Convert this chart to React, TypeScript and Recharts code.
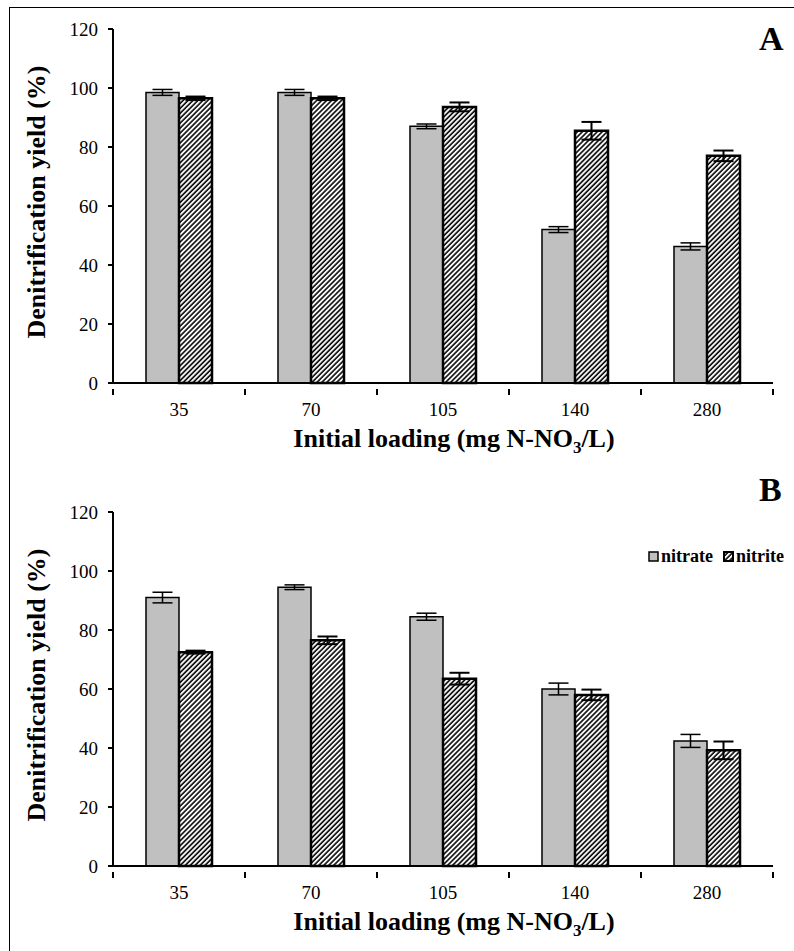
import React from 'react';
import { BarChart, Bar, XAxis, YAxis, ErrorBar, Label, Legend } from 'recharts';

const categories = ['35', '70', '105', '140', '280'];
const yTicks = [0, 20, 40, 60, 80, 100, 120];

// panel A
const nitrateA = [98.5, 98.5, 87, 52, 46.3];
const nitrateErrA = [1, 1, 0.8, 1, 1.2];
const nitriteA = [96.5, 96.5, 93.6, 85.5, 77];
const nitriteErrA = [0.6, 0.6, 1.5, 3, 1.8];

// panel B
const nitrateB = [91, 94.5, 84.5, 60, 42.4];
const nitrateErrB = [1.8, 0.8, 1.2, 2, 2.2];
const nitriteB = [72.5, 76.5, 63.5, 58, 39.2];
const nitriteErrB = [0.5, 1.3, 2, 1.8, 3];

const FONT = 'Liberation Serif, Times New Roman, serif';
const GREY = '#c0c0c0';

const buildRows = (no3: number[], no3Err: number[], no2: number[], no2Err: number[]) =>
  categories.map((c, i) => ({
    loading: c,
    nitrate: no3[i],
    nitrateErr: no3Err[i],
    nitrite: no2[i],
    nitriteErr: no2Err[i],
  }));

const dataA = buildRows(nitrateA, nitrateErrA, nitriteA, nitriteErrA);
const dataB = buildRows(nitrateB, nitrateErrB, nitriteB, nitriteErrB);

// category labels at the centre, tick marks on the category boundaries
const CategoryTick = (props: any) => {
  const { x, y, payload, index, width, visibleTicksCount } = props;
  const step = width / visibleTicksCount;
  const axisY = y - 2;
  return (
    <g>
      <line x1={x - step / 2} y1={axisY} x2={x - step / 2} y2={axisY + 6} stroke="#000" strokeWidth={2} />
      {index === visibleTicksCount - 1 && (
        <line x1={x + step / 2} y1={axisY} x2={x + step / 2} y2={axisY + 6} stroke="#000" strokeWidth={2} />
      )}
      <text x={x} y={axisY + 27} textAnchor="middle" fontFamily={FONT} fontSize={19} fill="#000">
        {payload.value}
      </text>
    </g>
  );
};

const XTitle = (props: any) => {
  const { viewBox } = props;
  const cx = viewBox.x + viewBox.width / 2 + 11;
  return (
    <text x={cx} y={viewBox.y + 64} textAnchor="middle" fontFamily={FONT} fontSize={26} fontWeight="bold" fill="#000">
      Initial loading (mg N-NO
      <tspan fontSize={17} dy={6}>3</tspan>
      <tspan dy={-6}>/L)</tspan>
    </text>
  );
};

const YTitle = (props: any) => {
  const { viewBox } = props;
  const cy = viewBox.y + viewBox.height / 2 - 4;
  const x = 45;
  return (
    <text
      x={x}
      y={cy}
      transform={`rotate(-90, ${x}, ${cy})`}
      textAnchor="middle"
      fontFamily={FONT}
      fontSize={26}
      fontWeight="bold"
      fill="#000"
    >
      Denitrification yield (%)
    </text>
  );
};

const LegendBox = () => (
  <div style={{ display: 'flex', alignItems: 'center', fontFamily: FONT, fontSize: 18, fontWeight: 'bold' }}>
    <svg width={11} height={11} style={{ marginRight: 2 }}>
      <rect x={1} y={1} width={9} height={9} fill={GREY} stroke="#000" strokeWidth={1.5} />
    </svg>
    <span style={{ marginRight: 10 }}>nitrate</span>
    <svg width={11} height={11} style={{ marginRight: 2 }}>
      <rect x={1} y={1} width={9} height={9} fill="url(#hatch)" stroke="#000" strokeWidth={2} />
    </svg>
    <span>nitrite</span>
  </div>
);

const Panel = ({ data, height, top, showLegend }: { data: any[]; height: number; top: number; showLegend?: boolean }) => (
  <BarChart
    width={794}
    height={height}
    data={data}
    margin={{ top, right: 21, left: 53, bottom: height - top - 354 - 30 }}
    barCategoryGap="25%"
    barGap={0}
  >
    <XAxis
      dataKey="loading"
      height={30}
      axisLine={{ stroke: '#000', strokeWidth: 2 }}
      tickLine={false}
      tick={<CategoryTick />}
      interval={0}
    >
      <Label content={<XTitle />} />
    </XAxis>
    <YAxis
      width={60}
      domain={[0, 120]}
      ticks={yTicks}
      interval={0}
      axisLine={{ stroke: '#000', strokeWidth: 2 }}
      tickLine={{ stroke: '#000', strokeWidth: 2 }}
      tickSize={5}
      tickMargin={10}
      tick={{ fontFamily: FONT, fontSize: 19, fill: '#000' }}
    >
      <Label content={<YTitle />} />
    </YAxis>
    {showLegend && (
      <Legend
        layout="horizontal"
        verticalAlign="middle"
        align="center"
        content={<LegendBox />}
        wrapperStyle={{ top: 66, left: 648, width: 150 }}
      />
    )}
    <Bar dataKey="nitrate" fill={GREY} stroke="#000" strokeWidth={1.5} isAnimationActive={false}>
      <ErrorBar dataKey="nitrateErr" width={10} stroke="#000" strokeWidth={1.5} />
    </Bar>
    <Bar dataKey="nitrite" fill="url(#hatch)" stroke="#000" strokeWidth={2.5} isAnimationActive={false}>
      <ErrorBar dataKey="nitriteErr" width={10} stroke="#000" strokeWidth={2} />
    </Bar>
  </BarChart>
);

export default function App() {
  return (
    <div style={{ position: 'absolute', left: 0, top: 0, width: 794, height: 951, overflow: 'hidden', background: '#fff' }}>
      <svg width={0} height={0} style={{ position: 'absolute' }}>
        <defs>
          <pattern id="hatch" patternUnits="userSpaceOnUse" width={3.5} height={3.5} patternTransform="rotate(45)">
            <rect width={3.5} height={3.5} fill="#fff" />
            <line x1={1} y1={0} x2={1} y2={3.5} stroke="#000" strokeWidth={1.6} />
          </pattern>
        </defs>
      </svg>
      <div
        style={{
          position: 'absolute',
          left: 9,
          top: 7,
          width: 785,
          height: 944,
          borderLeft: '1.5px solid #000',
          borderTop: '1.5px solid #000',
          boxSizing: 'border-box',
        }}
      />
      <div style={{ position: 'absolute', left: 0, top: 0 }}>
        <Panel data={dataA} height={480} top={29} />
      </div>
      <div style={{ position: 'absolute', left: 0, top: 480 }}>
        <Panel data={dataB} height={471} top={32} showLegend />
      </div>
      <div style={{ position: 'absolute', left: 759, top: 20, fontFamily: FONT, fontSize: 34, fontWeight: 'bold' }}>A</div>
      <div style={{ position: 'absolute', left: 759, top: 471, fontFamily: FONT, fontSize: 34, fontWeight: 'bold' }}>B</div>
    </div>
  );
}
